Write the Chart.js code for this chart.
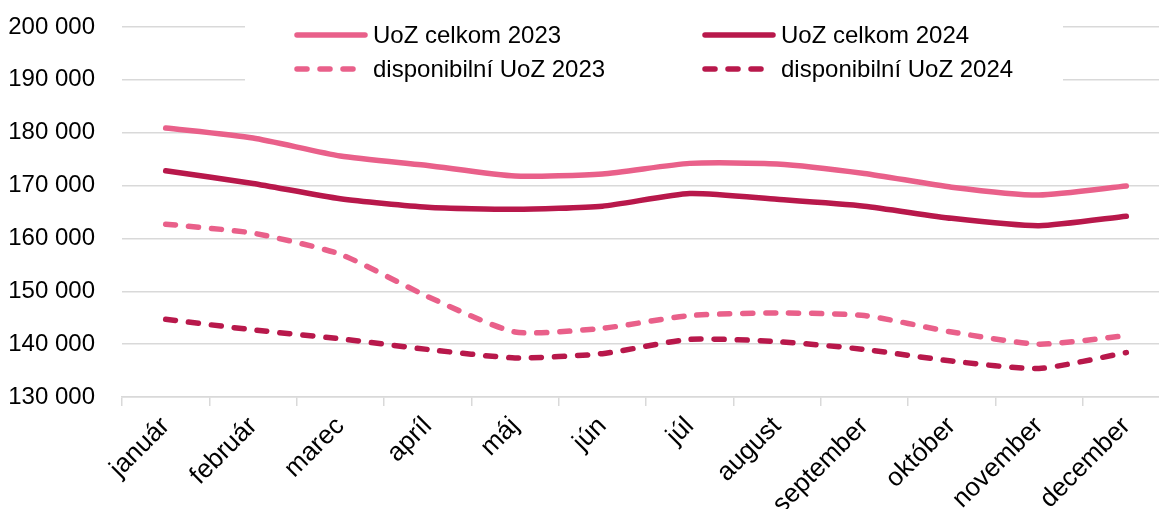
<!DOCTYPE html>
<html>
<head>
<meta charset="utf-8">
<script src="https://cdn.jsdelivr.net/npm/chart.js@4/dist/chart.umd.min.js"></script>
<style>
  html, body { margin: 0; padding: 0; background: #fff; overflow: hidden; }
  .wrap { width: 1172px; height: 509px; }
</style>
</head>
<body>
<div class="wrap"><canvas id="c" width="1172" height="509"></canvas></div>
<script>
const months = ['január', 'február', 'marec', 'apríl', 'máj', 'jún', 'júl', 'august', 'september', 'október', 'november', 'december'];

const uozTotal2023 = [180900, 179000, 175600, 173800, 171800, 172200, 174200, 174100, 172300, 169700, 168200, 169900];
const uozTotal2024 = [172800, 170400, 167500, 165900, 165500, 166100, 168500, 167400, 166100, 163800, 162400, 164200];
const uozAvail2023 = [162700, 161000, 157000, 149000, 142300, 143000, 145400, 145900, 145400, 142300, 140000, 141600];
const uozAvail2024 = [144700, 142700, 141000, 139000, 137400, 138200, 140900, 140500, 139000, 136800, 135400, 138400];

const yTicks = [130000, 140000, 150000, 160000, 170000, 180000, 190000, 200000];

const LIGHT = '#E9608A';
const DARK = '#B8184B';
const FONT = "'Liberation Sans', Arial, sans-serif";
const FSIZE = 24;

const fmt = v => String(v).replace(/\B(?=(\d{3})+(?!\d))/g, ' ');

// legend drawn in the plot, over the top gridlines, like the original
const boxLegend = {
  id: 'boxLegend',
  afterDatasetsDraw(chart) {
    const ctx = chart.ctx;
    ctx.save();
    ctx.fillStyle = '#fff';
    ctx.fillRect(245, 14, 818, 74);
    const items = chart.data.datasets.map((d, i) => ({
      text: d.label, color: d.borderColor, dash: d.borderDash || [],
      x: i % 2 === 0 ? 297 : 705, y: i < 2 ? 35 : 69
    }));
    items.forEach(it => {
      ctx.strokeStyle = it.color;
      ctx.lineWidth = 5.5;
      ctx.lineCap = 'round';
      ctx.setLineDash(it.dash);
      ctx.beginPath();
      ctx.moveTo(it.x, it.y);
      ctx.lineTo(it.x + 68, it.y);
      ctx.stroke();
      ctx.setLineDash([]);
      ctx.fillStyle = '#000';
      ctx.font = FSIZE + 'px ' + FONT;
      ctx.textBaseline = 'middle';
      ctx.textAlign = 'left';
      ctx.fillText(it.text, it.x + 76, it.y + 1);
    });
    ctx.restore();
  }
};

function series(label, data, color, dashed) {
  return {
    label: label,
    data: data,
    borderColor: color,
    backgroundColor: color,
    borderWidth: 5.5,
    borderCapStyle: 'round',
    borderJoinStyle: 'round',
    borderDash: dashed ? [10, 13] : [],
    pointRadius: 0,
    pointHoverRadius: 0,
    tension: 0.2,
    fill: false
  };
}

new Chart(document.getElementById('c'), {
  type: 'line',
  data: {
    labels: months,
    datasets: [
      series('UoZ celkom 2023', uozTotal2023, LIGHT, false),
      series('UoZ celkom 2024', uozTotal2024, DARK, false),
      series('disponibilní UoZ 2023', uozAvail2023, LIGHT, true),
      series('disponibilní UoZ 2024', uozAvail2024, DARK, true)
    ]
  },
  options: {
    responsive: false,
    animation: false,
    devicePixelRatio: 1,
    layout: { padding: { top: 27, right: 2, left: 0, bottom: 0 } },
    plugins: {
      legend: { display: false },
      tooltip: { enabled: false }
    },
    scales: {
      x: {
        offset: true,
        grid: {
          offset: true,
          drawOnChartArea: false,
          drawTicks: true,
          tickLength: 9,
          color: '#d9d9d9',
          lineWidth: 1.5
        },
        border: { display: true, color: '#d9d9d9', width: 1.5 },
        ticks: {
          autoSkip: false,
          maxRotation: 45,
          minRotation: 45,
          padding: 5,
          color: '#000',
          font: { family: FONT, size: 26 }
        },
        afterFit(s) { s.height = 112; }
      },
      y: {
        min: 130000,
        max: 200000,
        afterBuildTicks(s) { s.ticks = yTicks.map(v => ({ value: v })); },
        grid: { drawTicks: false, color: '#d9d9d9', lineWidth: 1.5 },
        border: { display: false },
        ticks: {
          padding: 27,
          color: '#000',
          font: { family: FONT, size: FSIZE },
          callback: v => fmt(v)
        },
        afterFit(s) {
          s.width = 122;
          s.paddingTop = 0;
          s.paddingBottom = 0;
        }
      }
    }
  },
  plugins: [boxLegend]
});
</script>
</body>
</html>
